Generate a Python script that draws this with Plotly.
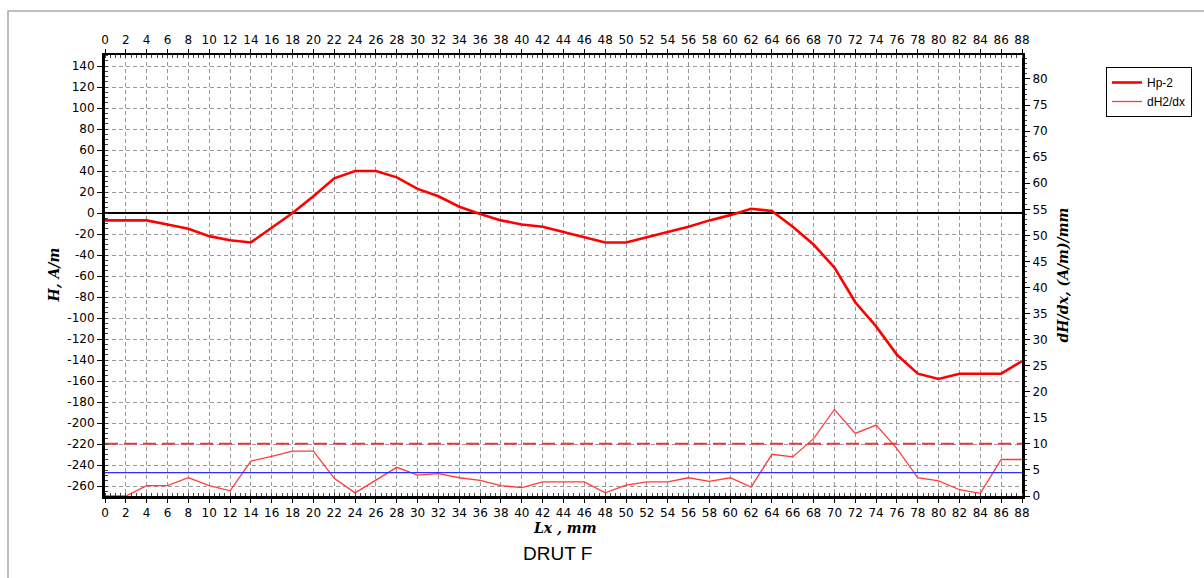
import plotly.graph_objects as go

# ---- data ----
x_mm = list(range(0, 90, 2))
hp2 = [-7, -7, -7, -11, -15, -22, -26, -28, -14, 0,
       16, 33, 40, 40, 34, 23, 16, 6, -1, -7,
       -11, -13, -18, -23, -28, -28, -23, -18, -13, -7,
       -2, 4, 2, -13, -30, -52, -85, -108, -135, -153,
       -158, -153, -153, -153, -141]
dh2dx = [0, 0, 2, 2, 3.5, 2, 1, 6.7, 7.6, 8.6,
         8.6, 3.4, 0.6, 3, 5.5, 4, 4.3, 3.5, 3, 2,
         1.6, 2.7, 2.7, 2.7, 0.6, 2.1, 2.7, 2.7, 3.5, 2.8,
         3.5, 1.7, 8, 7.5, 11, 16.6, 12, 13.6, 9.1, 3.5,
         2.9, 1.2, 0.5, 7, 7]
threshold_level = 10      # dashed red reference (right axis)
baseline_level = 4.5      # blue reference (right axis)

x_ticks = list(range(0, 90, 2))
left_ticks = list(range(-260, 160, 20))
left_labels = [str(v) for v in left_ticks]
right_ticks = list(range(0, 85, 5))
right_labels = [str(v) for v in right_ticks]

# ---- geometry helpers (plot area in pixels) ----
PX0, PX1, PY0, PY1 = 105, 1022, 55, 496
def px(xp):
    return (xp - PX0) / (PX1 - PX0)
def py(yp):
    return (PY1 - yp) / (PY1 - PY0)

tickfont = dict(family="DejaVu Sans", size=12, color="black")
grid = dict(showgrid=True, gridcolor="#9a9a9a", gridwidth=1, griddash="4px,3px")

fig = go.Figure()
fig.add_trace(go.Scatter(x=x_mm, y=hp2, name="Hp-2", mode="lines",
                         line=dict(color="#ff0000", width=2.6),
                         xaxis="x", yaxis="y"))
fig.add_trace(go.Scatter(x=x_mm, y=dh2dx, name="dH2/dx", mode="lines",
                         line=dict(color="#ff3b3b", width=1.3),
                         xaxis="x", yaxis="y2"))
fig.add_trace(go.Scatter(x=[x_mm[0], x_mm[-1]], y=[threshold_level] * 2,
                         mode="lines", showlegend=False, hoverinfo="skip",
                         line=dict(color="#e03c3c", width=2, dash="13px,6px"),
                         xaxis="x2", yaxis="y2"))
fig.add_trace(go.Scatter(x=[x_mm[0], x_mm[-1]], y=[baseline_level] * 2,
                         mode="lines", showlegend=False, hoverinfo="skip",
                         line=dict(color="#2e2eff", width=1.2),
                         xaxis="x2", yaxis="y2"))

fig.update_layout(
    width=1204, height=578,
    margin=dict(l=PX0, r=1204 - PX1, t=PY0, b=578 - PY1, pad=0),
    paper_bgcolor="white", plot_bgcolor="white",
    font=dict(family="DejaVu Sans", size=12, color="black"),
    xaxis=dict(range=[0, 88], tickvals=x_ticks, ticktext=[str(v) for v in x_ticks],
               tickangle=0, tickfont=tickfont, ticks="outside", ticklen=4,
               tickcolor="black", showline=True, linewidth=3, linecolor="black",
               zeroline=False, anchor="y",
               minor=dict(dtick=0.5, ticks="inside", ticklen=3, tickcolor="#444",
                          showgrid=False),
               **grid),
    xaxis2=dict(range=[0, 88], overlaying="x", side="top", anchor="y",
                tickvals=x_ticks, ticktext=[str(v) for v in x_ticks], tickangle=0,
                tickfont=tickfont, ticks="outside", ticklen=4, tickcolor="black",
                showline=True, linewidth=2, linecolor="black", showgrid=False,
                zeroline=False,
                minor=dict(dtick=0.5, ticks="inside", ticklen=3, tickcolor="#444")),
    yaxis=dict(range=[-269.5, 150.5], tickvals=left_ticks, ticktext=left_labels,
               tickfont=tickfont, ticks="outside", ticklen=5, tickcolor="black",
               showline=True, linewidth=3, linecolor="black",
               zeroline=True, zerolinecolor="black", zerolinewidth=2,
               anchor="x",
               minor=dict(dtick=5, ticks="inside", ticklen=3, tickcolor="#444",
                          showgrid=False),
               **grid),
    yaxis2=dict(range=[0, 84.6], overlaying="y", side="right", anchor="x",
                tickvals=right_ticks, ticktext=right_labels, tickfont=tickfont,
                ticks="outside", ticklen=5, tickcolor="black",
                showline=True, linewidth=3, linecolor="black",
                showgrid=False, zeroline=False,
                minor=dict(dtick=1, ticks="outside", ticklen=2, tickcolor="#444")),
    legend=dict(x=px(1106), y=py(67), xanchor="left", yanchor="top",
                bgcolor="white", bordercolor="black", borderwidth=1,
                font=dict(family="Liberation Sans", size=12, color="black"),
                tracegroupgap=0, itemwidth=30),
    showlegend=True,
)

title_font = dict(family="DejaVu Serif", size=14, color="black")
fig.add_annotation(text="<b><i>H, A/m</i></b>", xref="paper", yref="paper",
                   x=px(53), y=0.5, textangle=-90, showarrow=False,
                   xanchor="center", yanchor="middle", font=title_font)
fig.add_annotation(text="<b><i>dH/dx, (A/m)/mm</i></b>", xref="paper", yref="paper",
                   x=px(1062), y=0.5, textangle=-90, showarrow=False,
                   xanchor="center", yanchor="middle", font=title_font)
fig.add_annotation(text="<b><i>Lx , mm</i></b>", xref="paper", yref="paper",
                   x=px(564), y=py(528), showarrow=False,
                   xanchor="center", yanchor="middle", font=title_font)
fig.add_annotation(text="DRUT F", xref="paper", yref="paper",
                   x=px(557), y=py(553), showarrow=False,
                   xanchor="center", yanchor="middle",
                   font=dict(family="Liberation Sans", size=19, color="black"))

# outer frame of the original image and legend shadow
fig.add_shape(type="rect", xref="paper", yref="paper",
              x0=px(8), y0=py(600), x1=px(1220), y1=py(11),
              line=dict(color="#a8a8a8", width=1.5), fillcolor="rgba(0,0,0,0)",
              layer="below")
fig.add_shape(type="rect", xref="paper", yref="paper",
              x0=px(1110), y0=py(105), x1=px(1178), y1=py(71),
              line=dict(width=0), fillcolor="#9a9a9a", layer="above")

fig.write_html("out.html")
